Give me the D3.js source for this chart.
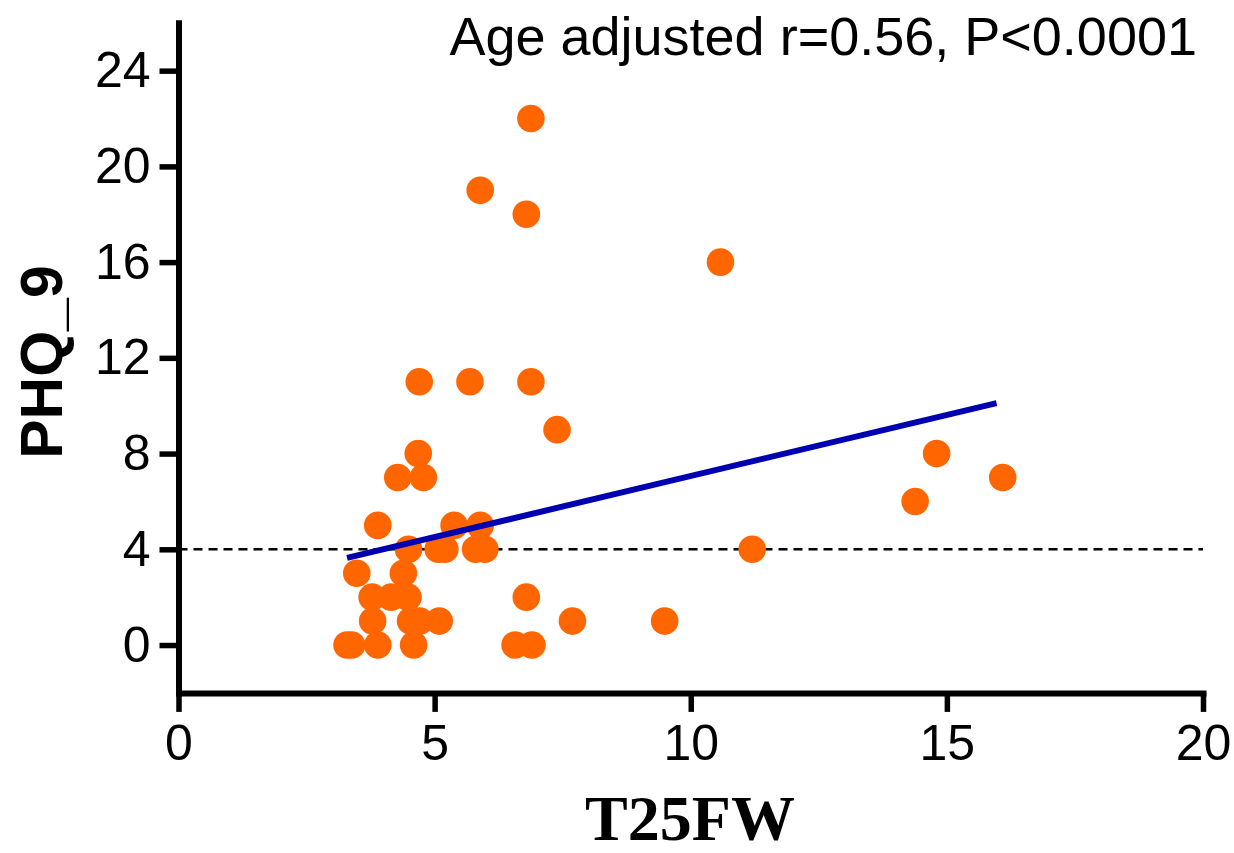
<!DOCTYPE html>
<html>
<head>
<meta charset="utf-8">
<script src="https://cdn.jsdelivr.net/npm/d3@7"></script>
<style>
  body { margin: 0; background: #fff; }
  svg { display: block; }
</style>
</head>
<body>
<svg id="svg" width="1234" height="853"></svg>
<script>
// T25FW (x) and PHQ_9 (y)
let t25fw = [6.88, 5.89, 6.79, 10.58, 4.70, 5.69, 6.88, 7.39, 4.68, 14.8,
             4.28, 4.78, 16.09, 14.38, 3.89, 5.38, 5.89, 4.49, 5.07, 5.20,
             5.80, 5.98, 11.2, 3.48, 4.39, 3.78, 4.15, 4.48, 6.79, 3.79,
             4.53, 4.71, 5.09, 7.69, 9.49, 3.29, 3.38, 3.89, 4.59, 6.57, 6.90];
let phq9 = [22, 19, 18, 16, 11, 11, 11, 9, 8, 8,
            7, 7, 7, 6, 5, 5, 5, 4, 4, 4,
            4, 4, 4, 3, 3, 2, 2, 2, 2, 1,
            1, 1, 1, 1, 1, 0, 0, 0, 0, 0, 0];

// fitted line end points
let fitX = [3.29, 15.97];
let fitY = [3.64, 10.11];

let cutoff = 4;
let xTicks = [0, 5, 10, 15, 20];
let yTicks = [0, 4, 8, 12, 16, 20, 24];

let data = t25fw.map((v, i) => ({ x: v, y: phq9[i] }));
let fit = fitX.map((v, i) => ({ x: v, y: fitY[i] }));

let svg = d3.select("svg");
let margin = { left: 178.5, right: 1203, top: 22.8, bottom: 692.9 };

let x = d3.scaleLinear().domain([0, 20]).range([margin.left, margin.right]);
let y = d3.scaleLinear().domain([-2, 26]).range([margin.bottom, margin.top]);

// dashed cut-off line
svg.append("line")
  .attr("x1", x(0)).attr("x2", x(20))
  .attr("y1", y(cutoff)).attr("y2", y(cutoff))
  .attr("stroke", "#000")
  .attr("stroke-width", 2.5)
  .attr("stroke-dasharray", "9,6");

// points
svg.append("g").selectAll("circle")
  .data(data)
  .enter().append("circle")
    .attr("cx", d => x(d.x))
    .attr("cy", d => y(d.y))
    .attr("r", 13.8)
    .attr("fill", "#ff6600");

// regression line
let line = d3.line().x(d => x(d.x)).y(d => y(d.y));
svg.append("path")
  .datum(fit)
  .attr("fill", "none")
  .attr("stroke", "#0000b0")
  .attr("stroke-width", 6)
  .attr("d", line);

// axes
let xAxis = svg.append("g")
  .attr("transform", "translate(0," + margin.bottom + ")")
  .call(d3.axisBottom(x).tickValues(xTicks).tickSize(19).tickSizeOuter(0).tickPadding(13));
let yAxis = svg.append("g")
  .attr("transform", "translate(" + margin.left + ",0)")
  .call(d3.axisLeft(y).tickValues(yTicks).tickSize(19).tickSizeOuter(0).tickPadding(9));

[xAxis, yAxis].forEach(a => {
  a.select(".domain").attr("stroke-width", 6).attr("stroke-linecap", "square");
  a.selectAll(".tick line").attr("stroke-width", 5.5);
  a.selectAll("text")
    .attr("fill", "#000")
    .style("font-family", "'Liberation Sans', Arial, sans-serif")
    .style("font-size", "50px");
});

// labels
svg.append("text")
  .attr("x", 1197).attr("y", 55)
  .attr("text-anchor", "end")
  .style("font-family", "'Liberation Sans', Arial, sans-serif")
  .style("font-size", "54px")
  .text("Age adjusted r=0.56, P<0.0001");

svg.append("text")
  .attr("transform", "translate(62,362) rotate(-90)")
  .attr("text-anchor", "middle")
  .style("font-family", "'Liberation Sans', Arial, sans-serif")
  .style("font-weight", "bold")
  .style("font-size", "59px")
  .text("PHQ_9");

svg.append("text")
  .attr("x", 690).attr("y", 840)
  .attr("text-anchor", "middle")
  .style("font-family", "'Liberation Serif', 'Times New Roman', serif")
  .style("font-weight", "bold")
  .style("font-size", "64px")
  .text("T25FW");
</script>
</body>
</html>
